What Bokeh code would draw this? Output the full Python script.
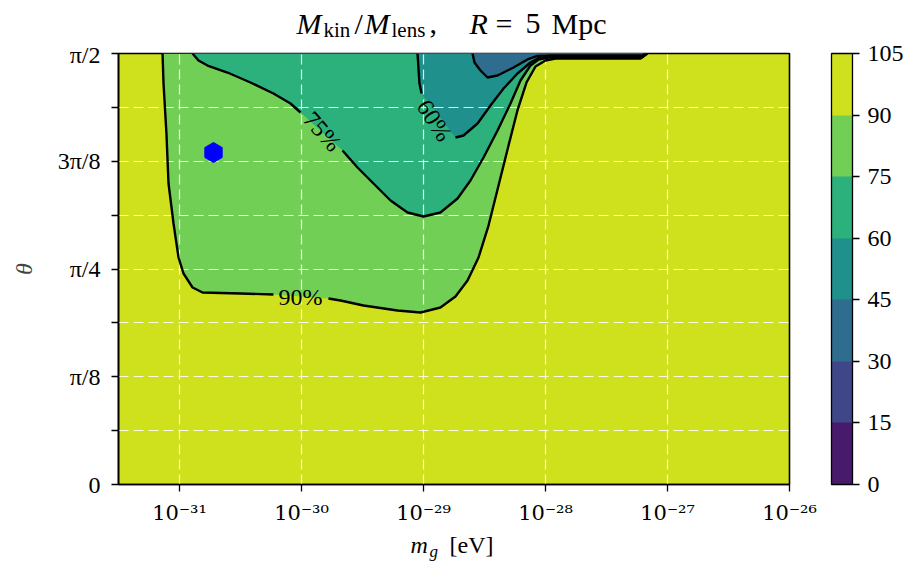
import numpy as np
from bokeh.plotting import figure
from bokeh.layouts import column
from bokeh.models import (Range1d, FixedTicker, CustomJSTickFormatter,
                          ColorBar, LinearColorMapper)
from bokeh.palettes import Viridis256
from bokeh.core.properties import value
from bokeh.embed import file_html
from bokeh.resources import INLINE

# ---------------- data ----------------
LEVELS = [0, 15, 30, 45, 60, 75, 90, 105]
X_TICK_EXP = [-31, -30, -29, -28, -27, -26]
X_TICK_LABELS = ["10⁻³¹", "10⁻³⁰", "10⁻²⁹", "10⁻²⁸", "10⁻²⁷", "10⁻²⁶"]
Y_TICK_EIGHTHS = [0, 1, 2, 3, 4]          # multiples of pi/8
Y_TICK_LABELS = ["0", "π/8", "π/4", "3π/8", "π/2"]
X_MIN_EXP, X_MAX_EXP = -31.5, -26.0

# contour 90 % (log10 m_g [eV], theta [deg])
C90_LOGM = [-31.139, -31.131, -31.107, -31.090, -31.049, -31.008, -30.967, -30.893,
            -30.811, -30.500, -30.230, -29.779, -29.680, -29.492, -29.213, -29.025,
            -28.861, -28.738, -28.639, -28.549, -28.467, -28.385, -28.303, -28.230,
            -28.156, -28.082, -28.000, -27.918, -27.549, -27.221, -27.164]
C90_THETA = [90.00, 83.74, 73.30, 62.85, 54.50, 47.40, 44.06, 41.14,
             40.09, 39.88, 39.68, 38.84, 38.42, 37.38, 36.33, 35.92,
             36.96, 39.26, 42.60, 47.40, 54.08, 62.44, 70.79, 78.10,
             83.94, 87.29, 88.54, 88.96, 88.96, 88.96, 90.00]
C90_GAP = 11

# contour 75 %
C75_LOGM = [-30.893, -30.844, -30.770, -30.607, -30.418, -30.230, -30.090, -30.008,
            -29.664, -29.541, -29.410, -29.270, -29.131, -29.000, -28.861, -28.721,
            -28.615, -28.508, -28.393, -28.287, -28.205, -28.123, -28.057, -27.975,
            -27.213, -27.172]
C75_THETA = [90.00, 88.54, 87.49, 86.03, 83.94, 81.65, 79.56, 77.68,
             69.75, 66.19, 62.85, 59.30, 56.80, 55.96, 56.80, 59.72,
             63.48, 68.28, 73.92, 79.56, 84.36, 87.49, 88.75, 89.16,
             89.16, 90.00]
C75_GAP = 8

# contour 60 %
C60_LOGM = [-29.049, -29.033, -29.016, -28.738, -28.672, -28.557, -28.451, -28.344,
            -28.230, -28.123, -28.041, -27.959, -27.205, -27.180]
C60_THETA = [90.00, 83.74, 81.65, 72.46, 72.88, 75.39, 79.14, 82.69,
             85.82, 88.12, 89.27, 89.37, 89.37, 90.00]
C60_GAP = 3

# contour 45 %
C45_LOGM = [-28.598, -28.582, -28.533, -28.475, -28.393, -28.262, -28.148, -28.066,
            -27.959, -27.205, -27.189]
C45_THETA = [90.00, 88.12, 86.45, 84.99, 85.41, 87.08, 88.75, 89.48,
             89.58, 89.58, 90.00]
C45_GAP = None

# inline contour labels
CLABEL_TEXT = ["90%", "75%", "60%"]
CLABEL_LOGM = [-30.008, -29.828, -28.910]
CLABEL_THETA = [39.05, 73.71, 76.01]

# marked point
POINT_MG = [1.9e-31]
POINT_THETA = [1.21]

# title / axis-label pieces
TITLE_TEXT = ["M", "kin", "/", "M", "lens", ",", "R", "=", "5", "Mpc"]
XLABEL_TEXT = ["m", "g", "[eV]"]
YLABEL_TEXT = "θ"

# ---------------- helpers ----------------
FONT = "Liberation Serif"
MID_OFF = 0.3375          # baseline - middle, in em, for Liberation Serif
W = 913


def viridis_for(lo, hi):
    f = (0.5 * (lo + hi) - LEVELS[0]) / (LEVELS[-1] - LEVELS[0])
    return Viridis256[min(int(f * 256), 255)]


LAYER_COLORS = [viridis_for(LEVELS[i], LEVELS[i + 1]) for i in range(len(LEVELS) - 1)]

FRAME_L, FRAME_W, FRAME_H = 118, 671, 431
FRAME_R_B = W - FRAME_L - FRAME_W
TOP_B, BOT_B = 12, 45
TITLE_H = 53 - TOP_B
XLAB_H = 561 - (TITLE_H + TOP_B + FRAME_H + BOT_B)


def strip(height):
    f = figure(frame_width=FRAME_W, frame_height=height,
               min_border_left=FRAME_L, min_border_right=FRAME_R_B,
               min_border_top=0, min_border_bottom=0,
               x_range=Range1d(FRAME_L, FRAME_L + FRAME_W), y_range=Range1d(height, 0),
               x_axis_location=None, y_axis_location=None,
               toolbar_location=None, output_backend="svg")
    f.grid.visible = False
    f.outline_line_color = None
    return f


def put_text(fig, t, xl, y_base, size, style):
    fig.text(x=[xl], y=[y_base - MID_OFF * size], text=[t],
             text_align="left", text_baseline="middle",
             text_font=value(FONT), text_font_size=f"{size}px", text_font_style=style,
             text_color="black")


# ---------------- title strip ----------------
pt = strip(TITLE_H)
title_layout = [(296, 33, 30, "italic"), (323, 36.5, 21, "normal"), (354, 33, 30, "normal"),
                (364, 33, 30, "italic"), (391, 36.5, 21, "normal"), (429, 33, 30, "normal"),
                (469, 33, 30, "italic"), (495, 33, 30, "normal"), (525, 33, 30, "normal"),
                (551, 33, 30, "normal")]
for t, (xl, yb, s, st) in zip(TITLE_TEXT, title_layout):
    put_text(pt, t, xl, yb, s, st)

# ---------------- main plot ----------------
p = figure(frame_width=FRAME_W, frame_height=FRAME_H,
           min_border_left=FRAME_L, min_border_right=FRAME_R_B,
           min_border_top=TOP_B, min_border_bottom=BOT_B,
           x_axis_type="log",
           x_range=Range1d(10 ** X_MIN_EXP, 10 ** X_MAX_EXP),
           y_range=Range1d(0, np.pi / 2),
           toolbar_location=None, output_backend="svg")

p.background_fill_color = LAYER_COLORS[6]
p.border_fill_color = "white"
p.outline_line_color = "black"
p.outline_line_width = 1.6

contours = [
    (C90_LOGM, C90_THETA, C90_GAP, LAYER_COLORS[5]),
    (C75_LOGM, C75_THETA, C75_GAP, LAYER_COLORS[4]),
    (C60_LOGM, C60_THETA, C60_GAP, LAYER_COLORS[3]),
    (C45_LOGM, C45_THETA, C45_GAP, LAYER_COLORS[2]),
]

for lm, th, gap, col in contours:
    xs = 10.0 ** np.array(lm)
    ys = np.deg2rad(th)
    p.patch(xs, ys, fill_color=col, line_color=None, level="image")

for lm, th, gap, col in contours:
    xs = 10.0 ** np.array(lm)
    ys = np.deg2rad(th)
    segs = [(xs, ys)] if gap is None else [(xs[:gap], ys[:gap]), (xs[gap:], ys[gap:])]
    for sx, sy in segs:
        p.line(sx, sy, line_color="black", line_width=2.4)

angles = [0.0, -0.85, -1.0]
p.text(x=10.0 ** np.array(CLABEL_LOGM), y=np.deg2rad(CLABEL_THETA), text=CLABEL_TEXT,
       angle=angles, text_align="center", text_baseline="middle",
       text_font=value(FONT), text_font_size="24px", text_color="black")

p.scatter(POINT_MG, POINT_THETA, marker="hex", size=20, angle=np.pi / 2,
          fill_color="#0000ff", line_color="#0000ff")

x_ticks = [10.0 ** e for e in X_TICK_EXP]
p.xaxis.ticker = FixedTicker(ticks=x_ticks, minor_ticks=[])
p.xaxis.formatter = CustomJSTickFormatter(args=dict(vals=X_TICK_EXP, labs=X_TICK_LABELS), code="""
    let best = 0, bd = Infinity;
    for (let i = 0; i < vals.length; i++) {
        const d = Math.abs(Math.log10(tick) - vals[i]);
        if (d < bd) { bd = d; best = i; }
    }
    return labs[best];
""")
y_ticks = [k * np.pi / 8 for k in Y_TICK_EIGHTHS]
y_minor = [(2 * k + 1) * np.pi / 16 for k in range(4)]
p.yaxis.ticker = FixedTicker(ticks=y_ticks, minor_ticks=y_minor)
p.yaxis.formatter = CustomJSTickFormatter(args=dict(vals=y_ticks, labs=Y_TICK_LABELS), code="""
    let best = 0, bd = Infinity;
    for (let i = 0; i < vals.length; i++) {
        const d = Math.abs(tick - vals[i]);
        if (d < bd) { bd = d; best = i; }
    }
    return labs[best];
""")

for ax in (p.xaxis[0], p.yaxis[0]):
    ax.axis_line_color = "black"
    ax.axis_line_width = 1.6
    ax.major_tick_line_color = "black"
    ax.major_tick_line_width = 1.3
    ax.major_tick_in = 0
    ax.major_tick_out = 7
    ax.minor_tick_line_color = "black"
    ax.minor_tick_line_width = 1.3
    ax.minor_tick_in = 0
    ax.minor_tick_out = 7
    ax.major_label_text_color = "black"
p.xaxis.minor_tick_line_color = None
p.xaxis.major_label_text_font = "DejaVu Serif"
p.xaxis.major_label_text_font_size = "21px"
p.xaxis.major_label_standoff = 9
p.yaxis.major_label_text_font = FONT
p.yaxis.major_label_text_font_size = "24px"
p.yaxis.major_label_standoff = 11
p.yaxis.axis_label = YLABEL_TEXT
p.yaxis.axis_label_text_font = FONT
p.yaxis.axis_label_text_font_size = "24px"
p.yaxis.axis_label_text_font_style = "italic"
p.yaxis.axis_label_standoff = 18

p.xgrid.ticker = FixedTicker(ticks=[10.0 ** e for e in X_TICK_EXP[:-1]])
p.ygrid.ticker = FixedTicker(ticks=[k * np.pi / 16 for k in range(1, 8)])
for g in (p.xgrid[0], p.ygrid[0]):
    g.grid_line_color = "white"
    g.grid_line_alpha = 0.85
    g.grid_line_width = 1.2
    g.grid_line_dash = "10 5"

mapper = LinearColorMapper(palette=LAYER_COLORS, low=LEVELS[0], high=LEVELS[-1])
cb = ColorBar(color_mapper=mapper, ticker=FixedTicker(ticks=LEVELS),
              location=(FRAME_W + 42, 0), width=21, height=FRAME_H,
              margin=0, padding=0,
              bar_line_color="black", bar_line_width=1.3,
              major_tick_line_color="black", major_tick_line_width=1.3,
              major_tick_in=0, major_tick_out=7, minor_tick_line_color=None,
              label_standoff=8,
              major_label_text_font=FONT, major_label_text_font_size="24px",
              major_label_text_color="black",
              background_fill_alpha=0, border_line_color=None)
p.add_layout(cb, "center")

# ---------------- x-label strip ----------------
px = strip(XLAB_H)
x0 = TITLE_H + TOP_B + FRAME_H + BOT_B
xlab_layout = [(410, 553 - x0, 24, "italic"), (429, 557 - x0, 17, "italic"),
               (449, 553 - x0, 24, "normal")]
for t, (xl, yb, s, st) in zip(XLABEL_TEXT, xlab_layout):
    put_text(px, t, xl, yb, s, st)

layout = column(pt, p, px, spacing=0)
open("out.html", "w").write(file_html(layout, INLINE))
